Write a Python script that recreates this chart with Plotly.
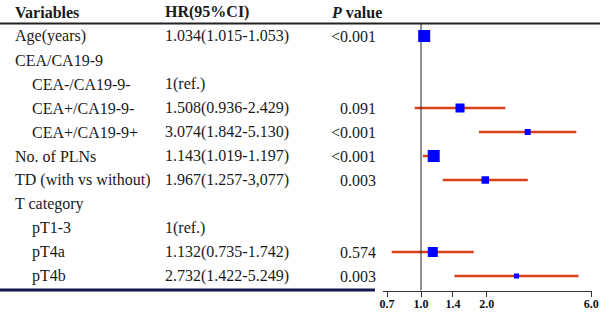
import math
import plotly.graph_objects as go

# ---- data ----
variables = ["Age(years)", "CEA/CA19-9", "CEA-/CA19-9-", "CEA+/CA19-9-", "CEA+/CA19-9+",
             "No. of PLNs", "TD (with vs without)", "T category", "pT1-3", "pT4a", "pT4b"]
indent = [0, 0, 1, 1, 1, 0, 0, 0, 1, 1, 1]
hr_text = ["1.034(1.015-1.053)", "", "1(ref.)", "1.508(0.936-2.429)", "3.074(1.842-5.130)",
           "1.143(1.019-1.197)", "1.967(1.257-3,077)", "", "1(ref.)", "1.132(0.735-1.742)",
           "2.732(1.422-5.249)"]
p_text = ["<0.001", "", "", "0.091", "<0.001", "<0.001", "0.003", "", "", "0.574", "0.003"]
hr = [1.034, None, None, 1.508, 3.074, 1.143, 1.967, None, None, 1.132, 2.732]
ci_low = [1.015, None, None, 0.936, 1.842, 1.019, 1.257, None, None, 0.735, 1.422]
ci_high = [1.053, None, None, 2.429, 5.130, 1.197, 3.077, None, None, 1.742, 5.249]
weights = [12, None, None, 9, 6, 12, 7.5, None, None, 10, 5]
tick_vals = [0.7, 1.0, 1.4, 2.0, 6.0]
tick_text = ["0.7", "1.0", "1.4", "2.0", "6.0"]

W, H = 600, 316
FONT = "Liberation Serif"
TXT = "#1a1a1a"

rows = list(range(len(variables)))

fig = go.Figure()

# CI lines
lx, ly = [], []
for i in rows:
    if hr[i] is not None:
        lx += [ci_low[i], ci_high[i], None]
        ly += [i, i, None]
fig.add_trace(go.Scatter(x=lx, y=ly, mode="lines",
                         line=dict(color="#d6401a", width=2.5), hoverinfo="skip"))

# reference line at HR=1
fig.add_trace(go.Scatter(x=[1, 1], y=[-0.5, 10.6], mode="lines",
                         line=dict(color="#222222", width=1), hoverinfo="skip"))

# markers
mx = [hr[i] for i in rows if hr[i] is not None]
my = [i for i in rows if hr[i] is not None]
ms = [weights[i] for i in rows if hr[i] is not None]
fig.add_trace(go.Scatter(x=mx, y=my, mode="markers",
                         marker=dict(symbol="square", color="#0000ff", size=ms, opacity=1,
                                     line=dict(width=0))))

ann = []
# headers
ann.append(dict(x=13 / W, y=-1, text="<b>Variables</b>", xanchor="left"))
ann.append(dict(x=163 / W, y=-1, text="<b>HR(95%CI)</b>", xanchor="left"))
ann.append(dict(x=329 / W, y=-1, text="<b><i>P</i> value</b>", xanchor="left"))
for i in rows:
    ann.append(dict(x=(13 if indent[i] == 0 else 30) / W, y=i, text=variables[i], xanchor="left"))
    if hr_text[i]:
        ann.append(dict(x=163 / W, y=i, text=hr_text[i], xanchor="left"))
    if p_text[i]:
        ann.append(dict(x=378 / W, y=i, text=p_text[i].replace("<", "&lt;"), xanchor="right"))
for a in ann:
    a.update(xref="paper", yref="y", showarrow=False, yanchor="middle",
             font=dict(family=FONT, size=16, color=TXT))

shapes = [
    dict(type="line", xref="paper", yref="paper", x0=0, x1=1,
         y0=1 - 23.5 / H, y1=1 - 23.5 / H, line=dict(color="#222222", width=2)),
    dict(type="line", xref="paper", yref="paper", x0=0, x1=375 / W,
         y0=1 - 290 / H, y1=1 - 290 / H, line=dict(color="#15154f", width=3)),
]

px_per_ln = 95.0
x_left, x_right, x_one = 383, 592, 421
rng = [-(x_one - x_left) / px_per_ln / math.log(10), (x_right - x_one) / px_per_ln / math.log(10)]

fig.update_layout(
    width=W, height=H, margin=dict(l=0, r=0, t=0, b=0, autoexpand=False),
    paper_bgcolor="white", plot_bgcolor="white", showlegend=False,
    annotations=ann, shapes=shapes,
    xaxis=dict(type="log", domain=[x_left / W, x_right / W], range=rng,
               anchor="free", position=1 - 291 / H, automargin=False,
               showline=True, linecolor="#333333", linewidth=1,
               ticks="outside", ticklen=5, tickcolor="#333333", tickwidth=1,
               ticklabelstandoff=-3,
               tickvals=tick_vals, ticktext=tick_text,
               tickfont=dict(family=FONT, size=12, color="#111111", weight="bold"),
               showgrid=False, zeroline=False),
    yaxis=dict(range=[(H - 36) / 24, -1.5], visible=False, showgrid=False,
               zeroline=False, automargin=False),
)

fig.write_html("out.html", config={"displayModeBar": False},
               post_script="document.body.style.margin='0';document.body.style.overflow='hidden';")
